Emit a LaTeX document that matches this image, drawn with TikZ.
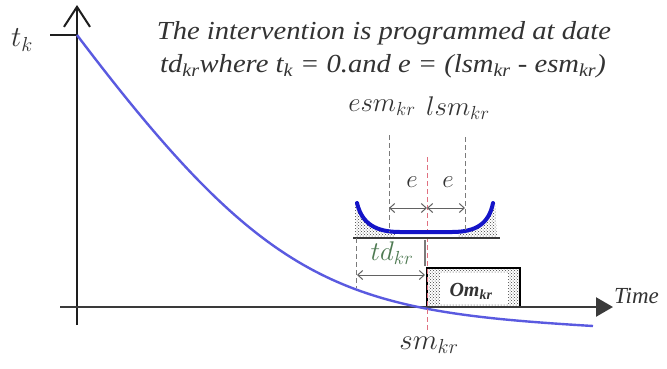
\RequirePackage{fix-cm}
\documentclass[tikz,border=0pt]{standalone}
\usepackage{fontspec}
\setmainfont{Liberation Serif}[ItalicFont={Liberation Serif Italic}, BoldFont={Liberation Serif Bold}, BoldItalicFont={Liberation Serif Bold Italic}]
\newfontfamily\capfont{Liberation Serif Italic}[FakeStretch=1.1]
\usetikzlibrary{arrows.meta,patterns}
\definecolor{axisc}{HTML}{1E1E1E}
\definecolor{xaxisc}{HTML}{3A3A3A}
\definecolor{curveblue}{HTML}{5A5AE0}
\definecolor{cupblue}{HTML}{1414C8}
\definecolor{dashgray}{HTML}{7A7A7A}
\definecolor{redd}{HTML}{E07080}
\definecolor{textgray}{HTML}{333333}
\definecolor{tdgreen}{HTML}{4E7A52}
\tikzset{
  captxt/.style={font=\capfont\fontsize{26}{30}\selectfont, text=textgray, inner sep=0pt},
  mlabel/.style={font=\fontsize{27}{30}\selectfont, text=textgray, inner sep=0pt},
  elabel/.style={font=\fontsize{25}{28}\selectfont, text=textgray, inner sep=0pt},
  axisline/.style={draw=axisc, line width=2pt},
  xaxisline/.style={draw=xaxisc, line width=2.4pt},
  guide/.style={draw=dashgray, line width=1pt, dash pattern=on 5pt off 3pt},
  redguide/.style={draw=redd, line width=0.9pt, dash pattern=on 5pt off 3pt},
  dimarrow/.style={draw=dashgray!80!black, line width=1pt, {Straight Barb[length=5pt,width=9pt]}-{Straight Barb[length=5pt,width=9pt]}},
  hatch/.style={pattern=crosshatch dots, pattern color=black!75},
}
\begin{document}
\begin{tikzpicture}[x=1pt,y=-1pt]
\useasboundingbox[fill=white] (0,0) rectangle (667,368);

% caption
\node[captxt] (cap1) at (384,33) {The intervention is programmed at date};
\node[captxt] (cap2) at (383,66) {td\textsubscript{kr}where t\textsubscript{k} = 0.and e = (lsm\textsubscript{kr} - esm\textsubscript{kr})};

% axes
\coordinate (yb) at (77,325);
\coordinate (yt) at (77,5);
\coordinate (xl) at (60,307);
\coordinate (xr) at (613,307);
\coordinate (tk0) at (50,35);
\coordinate (tk1) at (77,35);
\draw[axisline, -{Straight Barb[length=20pt,width=26pt,line width=2pt]}] (yb) -- (yt);
\draw[axisline] (tk0) -- (tk1);
\node[mlabel, font=\fontsize{29}{32}\selectfont] (tk) at (22,40) {$t_k$};

% Om box
\coordinate (om1) at (427,268);
\coordinate (om2) at (520,307);
\coordinate (omi1) at (440,273);
\coordinate (omi2) at (508,304);
\fill[hatch] (om1) rectangle (om2);
\fill[white] (omi1) rectangle (omi2);
\draw[black, line width=2pt] (om1) rectangle (om2);
\node[font=\bfseries\itshape\fontsize{20}{22}\selectfont, text=textgray, inner sep=0pt] (om) at (471,291) {Om\textsubscript{kr}};

\draw[xaxisline, -{Triangle[length=17pt,width=19pt]}] (xl) -- (xr);
\node[font=\itshape\fontsize{23}{26}\selectfont, text=textgray, anchor=west, inner sep=0pt] (time) at (614,296) {Time};

% decreasing curve
\coordinate (c0) at (77,35);
\coordinate (c3) at (593,326);
\draw[curveblue, line width=2.4pt] (c0) .. controls (270,290) and (343,311) .. (c3);

% red guide
\coordinate (r1) at (427,157);
\coordinate (r2) at (427,332);
\draw[redguide] (r1) -- (r2);
\node[mlabel, font=\fontsize{29}{32}\selectfont] (sm) at (429,345) {$sm_{kr}$};

% cup
\coordinate (cupL) at (357,203);
\coordinate (cupR) at (493,203);
\coordinate (bL) at (353,238);
\coordinate (bR) at (500,238);
\fill[hatch] (355,203) .. controls (361,224) and (375,232) .. (400,232) -- (452,232) .. controls (478,232) and (490,222) .. (495,203) -- (497,238) -- (355,238) -- cycle;
\fill[white] (395,233) rectangle (458,237);
\draw[cupblue, line width=4pt, line cap=round] (cupL) .. controls (362,224) and (376,232) .. (400,232) -- (452,232) .. controls (477,232) and (489,223) .. (cupR);
\draw[draw=xaxisc, line width=1.4pt] (bL) -- (bR);

% esm / lsm guides
\coordinate (esmT) at (389,135);
\coordinate (esmB) at (389,232);
\coordinate (lsmT) at (465,137);
\coordinate (lsmB) at (465,232);
\draw[guide] (esmT) -- (esmB);
\draw[guide] (lsmT) -- (lsmB);
\node[mlabel] (esm) at (382,108) {$esm_{kr}$};
\node[mlabel] (lsm) at (458,108) {$lsm_{kr}$};

% e arrows
\coordinate (eL) at (389,208);
\coordinate (eM) at (427,208);
\coordinate (eR) at (465,208);
\draw[dimarrow] (eL) -- (eM);
\draw[dimarrow] (eM) -- (eR);
\node[elabel] (e1) at (412,182) {$e$};
\node[elabel] (e2) at (448,182) {$e$};

% td
\coordinate (tdL1) at (356,238);
\coordinate (tdL2) at (356,288);
\coordinate (tdR1) at (425,240);
\coordinate (tdR2) at (425,266);
\coordinate (tdaL) at (357,275);
\coordinate (tdaR) at (425,275);
\draw[guide] (tdL1) -- (tdL2);
\draw[draw=dashgray, line width=2pt] (tdR1) -- (tdR2);
\draw[dimarrow] (tdaL) -- (tdaR);
\node[mlabel, text=tdgreen] (td) at (392,253) {$td_{kr}$};
\end{tikzpicture}
\end{document}
